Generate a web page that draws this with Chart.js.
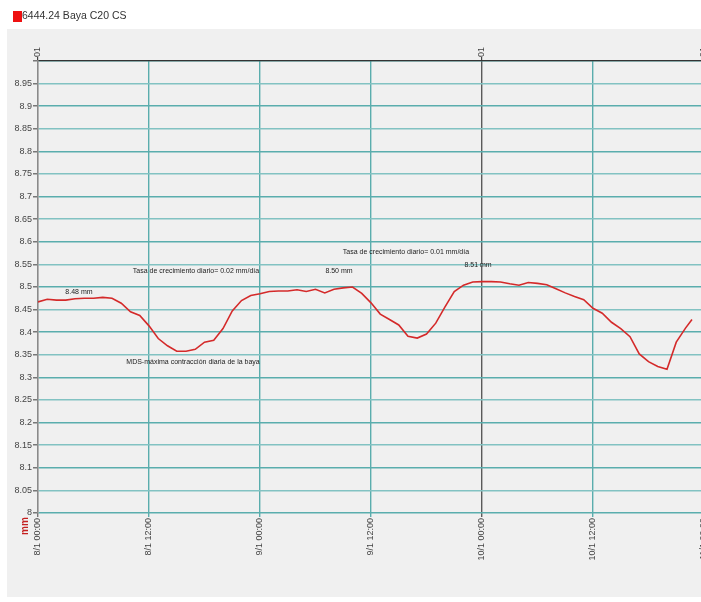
<!DOCTYPE html>
<html>
<head>
<meta charset="utf-8">
<title>6444.24 Baya C20 CS</title>
<script src="https://cdn.jsdelivr.net/npm/chart.js@4.4.1/dist/chart.umd.min.js"></script>
<style>
  html, body { margin: 0; padding: 0; background: #ffffff; overflow: hidden; }
  #wrap { position: absolute; left: 0; top: 0; width: 701px; height: 602px; overflow: hidden; }
  canvas { display: block; }
</style>
</head>
<body>
<div id="wrap"><canvas id="c" width="710" height="602"></canvas></div>
<script>
// Series: berry diameter (mm), sampled hourly from 8/1 00:00
const seriesName = '6444.24 Baya C20 CS';
const hours = [
  0, 1, 2, 3, 4, 5, 6, 7, 8, 9, 10, 11, 12, 13, 14, 15, 16, 17, 18, 19, 20, 21, 22, 23,
  24, 25, 26, 27, 28, 29, 30, 31, 32, 33, 34, 35, 36, 37, 38, 39, 40, 41, 42, 43, 44, 45, 46, 47,
  48, 49, 50, 51, 52, 53, 54, 55, 56, 57, 58, 59, 60, 61, 62, 63, 64, 65, 66, 67, 68, 69, 70, 70.7
];
const diameterMm = [
  8.467, 8.473, 8.471, 8.471, 8.474, 8.475, 8.475, 8.477, 8.475, 8.464, 8.445, 8.437,
  8.414, 8.386, 8.370, 8.358, 8.358, 8.362, 8.378, 8.382, 8.408, 8.447, 8.470, 8.481,
  8.485, 8.490, 8.491, 8.491, 8.494, 8.490, 8.495, 8.487, 8.495, 8.498, 8.500, 8.486,
  8.465, 8.440, 8.428, 8.416, 8.391, 8.387, 8.396, 8.420, 8.456, 8.490, 8.504, 8.511,
  8.512, 8.512, 8.511, 8.507, 8.504, 8.510, 8.508, 8.505, 8.496, 8.487, 8.479, 8.472,
  8.453, 8.442, 8.422, 8.408, 8.390, 8.352, 8.335, 8.324, 8.318, 8.378, 8.409, 8.428
];

// Bottom time axis (hours since 8/1 00:00)
const timeTickHours = [0, 12, 24, 36, 48, 60, 72];
const timeTickLabels = ['8/1 00:00', '8/1 12:00', '9/1 00:00', '9/1 12:00', '10/1 00:00', '10/1 12:00', '11/1 00:00'];
// Top day markers
const dayTickHours = [0, 48, 72];
const dayTickLabels = ['01', '01', '01'];

// Value axis
const yMin = 8, yMax = 9, yStep = 0.05;
const yTitle = 'mm';

// Text notes on the plot: [hour, value, text]
const noteHours  = [4.43, 17.08, 16.76, 39.78, 32.54, 47.57];
const noteValues = [8.489, 8.5345, 8.3345, 8.5781, 8.5354, 8.5478];
const noteTexts  = [
  '8.48 mm',
  'Tasa de crecimiento diario= 0.02 mm/día',
  'MDS-máxima contracción diaria de la baya',
  'Tasa de crecimiento diario= 0.01 mm/día',
  '8.50 mm',
  '8.51 mm'
];

const FONT = '"Liberation Sans", Arial, sans-serif';
const TEAL = '#5aadad';
const TEAL_LIGHT = '#82c2c2';

const framePlugin = {
  id: 'frame',
  beforeDraw(chart) {
    const ctx = chart.ctx;
    ctx.save();
    ctx.fillStyle = '#ffffff';
    ctx.fillRect(0, 0, chart.width, chart.height);
    ctx.fillStyle = '#f0f0f0';
    ctx.fillRect(7, 29, chart.width - 7, 568);
    ctx.restore();
  },
  afterDatasetsDraw(chart) {
    const ctx = chart.ctx;
    const xs = chart.scales.x, ys = chart.scales.y;
    ctx.save();
    ctx.fillStyle = '#222';
    ctx.font = '7px ' + FONT;
    ctx.textAlign = 'center';
    ctx.textBaseline = 'middle';
    noteTexts.forEach((t, i) => {
      ctx.fillText(t, xs.getPixelForValue(noteHours[i]), ys.getPixelForValue(noteValues[i]));
    });
    ctx.restore();
  },
  afterDraw(chart) {
    const ctx = chart.ctx;
    ctx.save();
    // series key
    ctx.fillStyle = '#ee1111';
    ctx.fillRect(13, 11, 9, 11);
    ctx.fillStyle = '#333';
    ctx.font = '10.5px ' + FONT;
    ctx.textAlign = 'left';
    ctx.textBaseline = 'middle';
    ctx.fillText(seriesName, 22, 16.5);
    // unit label
    ctx.translate(25, 526);
    ctx.rotate(-Math.PI / 2);
    ctx.fillStyle = '#c42020';
    ctx.font = 'bold 10px ' + FONT;
    ctx.textAlign = 'center';
    ctx.textBaseline = 'middle';
    ctx.fillText(yTitle, 0, 0);
    ctx.restore();
  }
};

new Chart(document.getElementById('c'), {
  type: 'line',
  data: {
    datasets: [{
      label: seriesName,
      data: hours.map((h, i) => ({ x: h, y: diameterMm[i] })),
      borderColor: '#d42a2a',
      borderWidth: 1.6,
      pointRadius: 0,
      tension: 0,
      fill: false
    }]
  },
  options: {
    responsive: false,
    animation: false,
    devicePixelRatio: 1,
    layout: { padding: { left: 0, right: 6, top: 0, bottom: 0 } },
    plugins: { legend: { display: false }, tooltip: { enabled: false } },
    scales: {
      x: {
        type: 'linear',
        position: 'bottom',
        min: 0, max: 72,
        afterBuildTicks(s) { s.ticks = timeTickHours.map(v => ({ value: v })); },
        afterFit(s) { s.height = 89; s.paddingLeft = 0; s.paddingRight = 0; },
        ticks: {
          autoSkip: false,
          minRotation: 90, maxRotation: 90,
          padding: 1,
          color: '#444',
          font: { family: FONT, size: 9 },
          callback: (v) => timeTickLabels[timeTickHours.indexOf(v)]
        },
        grid: {
          drawOnChartArea: true,
          tickLength: 4,
          lineWidth: 1.4,
          color: (c) => c.tick && c.tick.value === 48 ? '#5a5a5a' : (c.tick && c.tick.value === 0 ? 'rgba(0,0,0,0)' : TEAL),
          tickColor: (c) => c.tick && c.tick.value === 48 ? '#5a5a5a' : (c.tick && c.tick.value === 0 ? '#777' : TEAL)
        },
        border: { display: false }
      },
      xTop: {
        type: 'linear',
        position: 'top',
        min: 0, max: 72,
        afterBuildTicks(s) { s.ticks = dayTickHours.map(v => ({ value: v })); },
        afterFit(s) { s.height = 61; s.paddingLeft = 0; s.paddingRight = 0; },
        ticks: {
          autoSkip: false,
          minRotation: 90, maxRotation: 90,
          padding: 0,
          labelOffset: 10.8,
          color: '#444',
          font: { family: FONT, size: 9 },
          callback: (v) => dayTickLabels[dayTickHours.indexOf(v)]
        },
        grid: {
          drawOnChartArea: false,
          tickLength: 4,
          lineWidth: 1.2,
          color: '#444'
        },
        border: { display: true, color: '#333', width: 1.2 }
      },
      y: {
        type: 'linear',
        position: 'left',
        min: yMin, max: yMax,
        afterFit(s) { s.width = 38; s.paddingTop = 0; s.paddingBottom = 0; },
        ticks: {
          stepSize: yStep,
          padding: 1,
          color: '#444',
          font: { family: FONT, size: 9 },
          callback: (v) => {
            const r = Math.round(v * 100) / 100;
            return r >= yMax ? '' : String(r);
          }
        },
        grid: {
          tickLength: 5,
          lineWidth: 1.5,
          color: (c) => (c.index % 2 === 0 ? TEAL : TEAL_LIGHT),
          tickColor: '#777'
        },
        border: { display: true, color: '#8a8a8a', width: 1.6 }
      }
    }
  },
  plugins: [framePlugin]
});
</script>
</body>
</html>
